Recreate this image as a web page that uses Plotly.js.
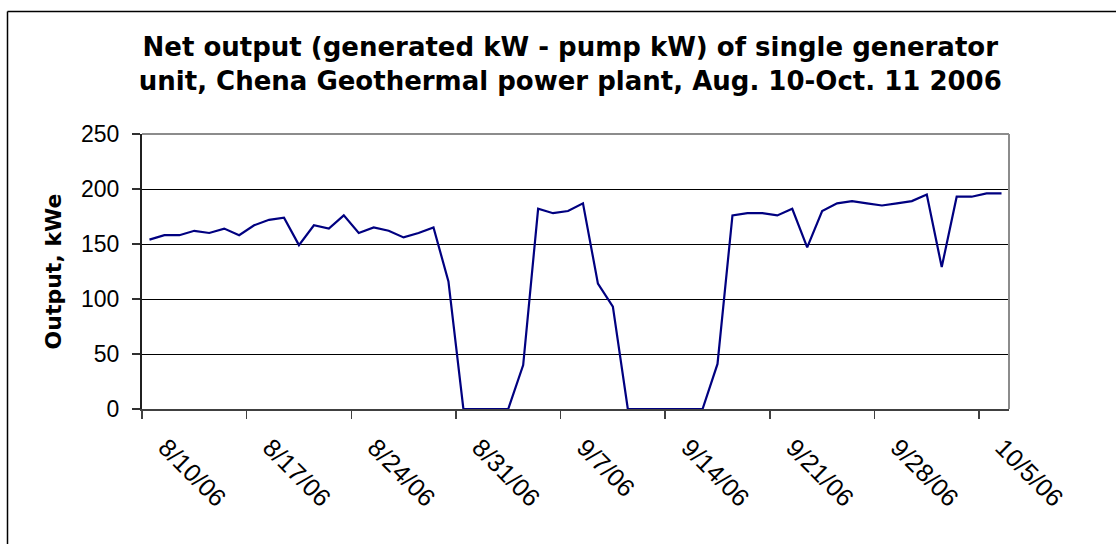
<!DOCTYPE html>
<html>
<head>
<meta charset="utf-8">
<script src="https://cdn.plot.ly/plotly-3.0.1.min.js"></script>
<style>
  html, body { margin: 0; padding: 0; background: #ffffff; }
  #chart { width: 1116px; height: 544px; }
</style>
</head>
<body>
<div id="chart"></div>
<script>
// ---- data ----
const dates = [
  '2006-08-10','2006-08-11','2006-08-12','2006-08-13','2006-08-14','2006-08-15','2006-08-16',
  '2006-08-17','2006-08-18','2006-08-19','2006-08-20','2006-08-21','2006-08-22','2006-08-23',
  '2006-08-24','2006-08-25','2006-08-26','2006-08-27','2006-08-28','2006-08-29','2006-08-30',
  '2006-08-31','2006-09-01','2006-09-02','2006-09-03','2006-09-04','2006-09-05','2006-09-06',
  '2006-09-07','2006-09-08','2006-09-09','2006-09-10','2006-09-11','2006-09-12','2006-09-13',
  '2006-09-14','2006-09-15','2006-09-16','2006-09-17','2006-09-18','2006-09-19','2006-09-20',
  '2006-09-21','2006-09-22','2006-09-23','2006-09-24','2006-09-25','2006-09-26','2006-09-27',
  '2006-09-28','2006-09-29','2006-09-30','2006-10-01','2006-10-02','2006-10-03','2006-10-04',
  '2006-10-05','2006-10-06'
];
const outputKWe = [
  154, 158, 158, 162, 160, 164, 158,
  167, 172, 174, 149, 167, 164, 176,
  160, 165, 162, 156, 160, 165, 116,
  0, 0, 0, 0, 40, 182, 178,
  180, 187, 114, 93, 0, 0, 0,
  0, 0, 0, 41, 176, 178, 178,
  176, 182, 147, 180, 187, 189, 187,
  185, 187, 189, 195, 129, 193, 193,
  196, 196
];
const tickDates = ['2006-08-10','2006-08-17','2006-08-24','2006-08-31','2006-09-07',
                   '2006-09-14','2006-09-21','2006-09-28','2006-10-05'];
const tickLabels = ['8/10/06','8/17/06','8/24/06','8/31/06','9/7/06',
                    '9/14/06','9/21/06','9/28/06','10/5/06'];
const yTicks = [0, 50, 100, 150, 200, 250];
const titleText = 'Net output (generated kW - pump kW) of single generator<br>' +
                  'unit, Chena Geothermal power plant, Aug. 10-Oct. 11 2006';
const yTitle = 'Output, kWe';

// ---- chart ----
const trace = {
  x: dates,
  y: outputKWe,
  type: 'scatter',
  mode: 'lines',
  line: { color: '#000080', width: 2.2 },
  cliponaxis: false,
  hoverinfo: 'x+y'
};

const layout = {
  width: 1116,
  height: 544,
  margin: { l: 142, r: 107, t: 134, b: 135, pad: 0 },
  paper_bgcolor: '#ffffff',
  plot_bgcolor: '#ffffff',
  showlegend: false,
  font: { family: 'Liberation Sans, Arial, sans-serif', color: '#000000', size: 23 },
  title: {
    text: titleText,
    font: { family: 'DejaVu Sans, sans-serif', size: 26, color: '#000000', weight: 'bold' },
    xref: 'container', x: 0.511, xanchor: 'center',
    yref: 'container', y: 1 - 56 / 544, yanchor: 'top'
  },
  xaxis: {
    type: 'date',
    range: ['2006-08-09 12:00', '2006-10-06 12:00'],
    tickmode: 'array',
    tickvals: tickDates,
    ticktext: tickLabels,
    tickangle: 45,
    ticks: '',
    ticklabelstandoff: 12,
    ticklabelshift: 16,
    tickfont: { family: 'Liberation Sans, Arial, sans-serif', size: 25, color: '#000000' },
    minor: {
      ticks: 'outside', ticklen: 8, tickwidth: 1.5, tickcolor: '#404040',
      tick0: '2006-08-09 12:00', dtick: 7 * 24 * 3600 * 1000, showgrid: false
    },
    showgrid: false,
    zeroline: false,
    showline: true, linecolor: '#404040', linewidth: 2,
    layer: 'below traces',
    fixedrange: true
  },
  yaxis: {
    range: [0, 250],
    tickmode: 'array',
    tickvals: yTicks,
    ticktext: yTicks.map(String),
    ticks: 'outside', ticklen: 8, tickwidth: 1.5, tickcolor: '#303030',
    ticklabelstandoff: 8,
    tickfont: { family: 'Liberation Sans, Arial, sans-serif', size: 23, color: '#000000' },
    showgrid: true, gridcolor: '#000000', gridwidth: 1,
    zeroline: false,
    showline: true, linecolor: '#202020', linewidth: 2,
    layer: 'below traces',
    title: {
      text: yTitle,
      font: { family: 'DejaVu Sans, sans-serif', size: 22, color: '#000000', weight: 'bold' },
      standoff: 13
    },
    fixedrange: true
  },
  shapes: [
    // plot-area frame (top and right)
    { type: 'line', xref: 'paper', yref: 'paper', x0: 0, x1: 1, y0: 1, y1: 1,
      line: { color: '#8c8c8c', width: 2 }, layer: 'above' },
    { type: 'line', xref: 'paper', yref: 'paper', x0: 1, x1: 1, y0: 0, y1: 1,
      line: { color: '#8c8c8c', width: 2 }, layer: 'above' },
    // outer chart border (open to right / bottom as in the reference)
    { type: 'line', xref: 'paper', yref: 'paper',
      x0: (7.5 - 142) / 867, x1: (7.5 - 142) / 867,
      y0: (409 - 560) / 275, y1: (409 - 11.5) / 275,
      line: { color: '#000000', width: 1.5 }, layer: 'above' },
    { type: 'line', xref: 'paper', yref: 'paper',
      x0: (7.5 - 142) / 867, x1: (1130 - 142) / 867,
      y0: (409 - 11.5) / 275, y1: (409 - 11.5) / 275,
      line: { color: '#000000', width: 1.5 }, layer: 'above' }
  ]
};

Plotly.newPlot('chart', [trace], layout, { staticPlot: true, displayModeBar: false });
</script>
</body>
</html>
